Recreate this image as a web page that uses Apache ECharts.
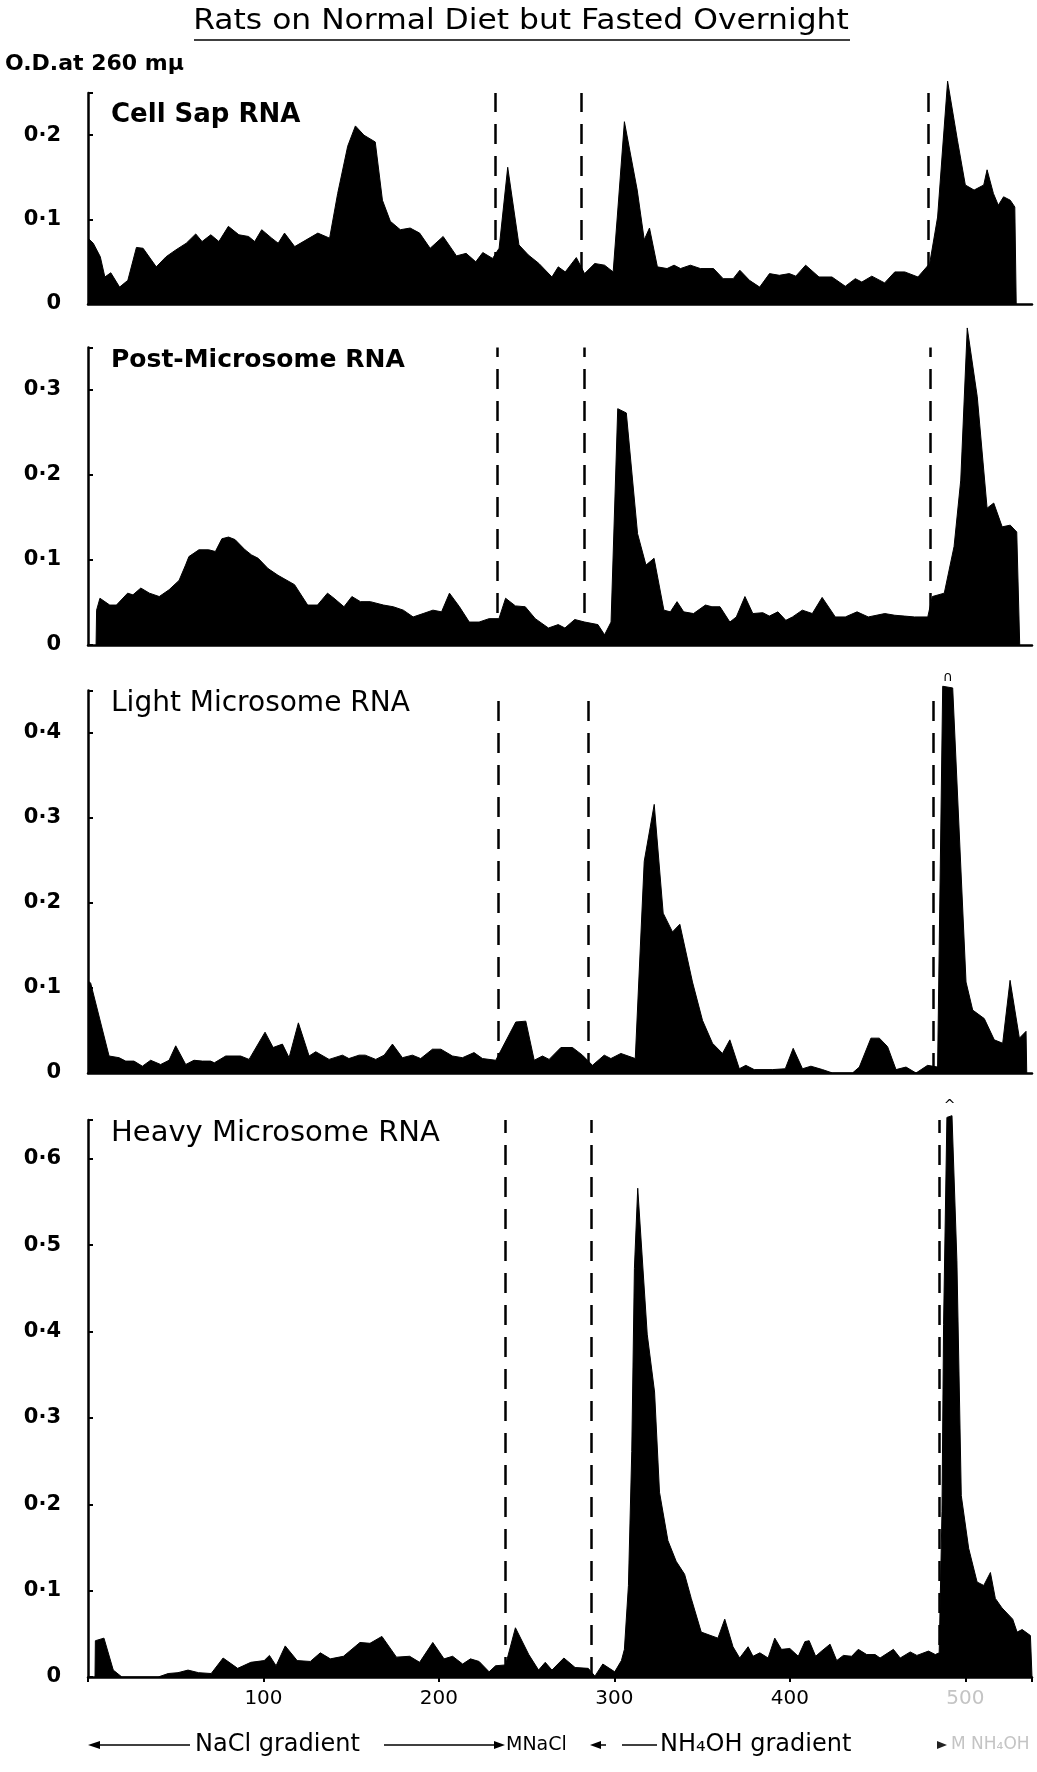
<!DOCTYPE html>
<html>
<head>
<meta charset="utf-8">
<title>Rats on Normal Diet but Fasted Overnight</title>
<script src="https://cdn.jsdelivr.net/npm/echarts@6/dist/echarts.min.js"></script>
<style>
  html, body { margin: 0; padding: 0; background: #fff; }
  #chart { width: 1037px; height: 1772px; }
</style>
</head>
<body>
<div id="chart"></div>
<script>
// [tube number, O.D. at 260 mu]
const cellSap = [
  [0,0.078],[3,0.072],[7,0.056],[9.6,0.032],[13,0.037],[18,0.020],[22.7,0.028],[27.6,0.067],[31.4,0.066],
  [38.9,0.044],[44.5,0.056],[50,0.064],[56,0.072],[61.4,0.083],[65,0.074],[70,0.082],[74.6,0.074],[80,0.092],
  [86,0.082],[91.5,0.080],[95,0.074],[99,0.088],[104.7,0.078],[108.4,0.072],[112,0.084],[117.8,0.068],[131,0.084],
  [137.7,0.078],[142.3,0.131],[148,0.187],[152.4,0.211],[157.3,0.200],[163.7,0.192],[167.8,0.123],[172.3,0.098],
  [178,0.088],[183.6,0.090],[189,0.084],[195,0.066],[202.4,0.080],[210,0.057],[215.5,0.060],[221,0.050],[225,0.061],
  [230.6,0.054],[234.3,0.066],[239.2,0.162],[245.6,0.070],[251,0.058],[257,0.048],[264.4,0.032],[268,0.044],
  [272,0.038],[278.3,0.055],[283,0.036],[288.8,0.048],[294.4,0.046],[299.3,0.038],[305.7,0.216],[313,0.135],
  [317,0.076],[320,0.090],[324.5,0.044],[330,0.042],[334,0.046],[337.7,0.042],[343.3,0.046],[349,0.042],
  [356.5,0.042],[362,0.030],[367.7,0.030],[371.5,0.040],[377,0.028],[382.8,0.020],[388.4,0.036],[394,0.034],
  [399.7,0.036],[403.4,0.033],[409,0.046],[416.6,0.032],[424,0.032],[431.6,0.021],[437.3,0.030],[441,0.026],
  [446.7,0.033],[454,0.025],[459.8,0.038],[465.5,0.038],[473,0.032],[479.7,0.048],[484.2,0.103],[489.9,0.264],
  [495.5,0.194],[500,0.141],[505,0.135],[510.5,0.141],[512.4,0.159],[516,0.131],[518.8,0.117],[521.8,0.127],
  [525.6,0.123],[528.2,0.115],[529,0]
];
const postMicrosome = [
  [4.6,0],[4.9,0.041],[6.8,0.055],[12.4,0.047],[16.2,0.047],[22.6,0.061],[25.6,0.059],[30.1,0.067],[35,0.061],
  [40.6,0.057],[46.2,0.065],[51.9,0.076],[55.6,0.094],[57.5,0.104],[63.2,0.112],[68.8,0.112],[72.6,0.110],
  [76.3,0.125],[80.1,0.127],[83.8,0.124],[89.5,0.112],[93.2,0.106],[97,0.102],[102.6,0.090],[108.3,0.082],
  [117.7,0.071],[125.2,0.047],[130.8,0.047],[136.5,0.061],[140.2,0.055],[145.9,0.045],[150.4,0.057],[155.3,0.051],
  [160.9,0.051],[168.4,0.047],[174,0.045],[179.7,0.041],[185.3,0.033],[191,0.037],[196.6,0.041],[201.5,0.039],
  [206,0.061],[211.7,0.045],[217.3,0.027],[222.9,0.027],[228.6,0.031],[234.2,0.031],[238,0.055],[243.6,0.046],
  [249.2,0.045],[254.9,0.031],[262.4,0.020],[268,0.024],[271.8,0.020],[277.4,0.030],[283.1,0.027],[290.6,0.024],
  [294.4,0.012],[298.1,0.027],[301.9,0.278],[306.8,0.273],[313.2,0.131],[318,0.094],[322.6,0.102],[328.2,0.041],
  [331.9,0.039],[335.7,0.051],[339.5,0.039],[345.1,0.037],[351.9,0.047],[355.6,0.045],[360.2,0.045],[365.8,0.027],
  [369.5,0.033],[374.4,0.057],[378.9,0.037],[384.6,0.038],[388.3,0.034],[393.2,0.039],[397.7,0.029],[401.5,0.033],
  [407.1,0.041],[412.8,0.037],[418.4,0.056],[425.9,0.033],[431.6,0.033],[438.3,0.039],[444.7,0.033],[454.1,0.037],
  [459.8,0.035],[465.4,0.034],[471.1,0.033],[478.6,0.033],[481.2,0.057],[488,0.061],[493.6,0.116],[497.4,0.194],
  [501.1,0.373],[506.8,0.292],[512.4,0.161],[516.2,0.167],[521,0.139],[525.6,0.141],[529.3,0.133],[531,0]
];
const lightMicrosome = [
  [0,0.108],[1.5,0.106],[12,0.020],[17.7,0.018],[21.5,0.014],[26.2,0.014],[31,0.008],[35.7,0.015],[41.4,0.010],
  [46.2,0.015],[50,0.032],[55.7,0.010],[60.4,0.015],[65.2,0.014],[69.9,0.014],[72,0.012],[78.5,0.020],[87,0.020],
  [91.8,0.016],[100.9,0.048],[105.5,0.030],[110.8,0.034],[114.6,0.018],[119.9,0.059],[126,0.020],[129.8,0.025],
  [137.4,0.016],[145,0.021],[148.7,0.017],[154.5,0.021],[158,0.021],[164,0.016],[168.8,0.021],[173.5,0.034],
  [179.2,0.018],[184.9,0.021],[189.6,0.017],[196.3,0.028],[201.1,0.028],[207.7,0.020],[213.4,0.018],[220,0.024],
  [224.8,0.017],[232.4,0.015],[243.8,0.060],[249.5,0.061],[254.3,0.015],[259,0.020],[262.8,0.016],[269.5,0.030],
  [276.1,0.030],[281.8,0.021],[287.5,0.009],[294.2,0.021],[298,0.017],[303.7,0.023],[311.9,0.017],[317,0.249],
  [322.7,0.316],[327.8,0.188],[333.1,0.166],[337.3,0.175],[344.5,0.107],[350.2,0.062],[355.9,0.035],[361.6,0.023],
  [365.8,0.039],[371.2,0.005],[374.9,0.009],[379.7,0.004],[390.1,0.004],[397.4,0.005],[401.9,0.029],[407.2,0.005],
  [412,0.008],[418.6,0.004],[424.3,0],[435.7,0],[439.6,0.007],[446.2,0.041],[451,0.041],[455.7,0.031],[460.5,0.004],
  [466.2,0.007],[471.9,0],[478.5,0.009],[484.2,0.007],[487.1,0.455],[492.8,0.453],[500.4,0.107],[504.2,0.074],
  [510.8,0.064],[516.5,0.039],[521.3,0.035],[525.5,0.109],[530.8,0.041],[534.6,0.049],[535,0]
];
const heavyMicrosome = [
  [4,0],[4.2,0.042],[9.1,0.045],[14.4,0.008],[19.3,0],[40,0],[45.7,0.004],[51.3,0.005],[57,0.008],[63,0.005],
  [70.2,0.004],[77,0.022],[85.3,0.010],[92.8,0.017],[100.4,0.019],[103.4,0.025],[107.2,0.013],[112.4,0.036],
  [119.2,0.019],[126.7,0.018],[132.4,0.028],[138.1,0.021],[145.6,0.024],[155,0.040],[160.7,0.039],[167.5,0.047],
  [175.8,0.023],[183.3,0.024],[189,0.017],[196.5,0.040],[202.9,0.021],[207.8,0.024],[213.5,0.015],[218,0.021],
  [222.9,0.018],[228.6,0.006],[232.3,0.013],[238,0.014],[243.6,0.057],[251.2,0.026],[256.8,0.008],[260.6,0.017],
  [264.4,0.008],[271.2,0.022],[277.6,0.011],[285.1,0.010],[288.9,0.001],[293.4,0.015],[300.2,0.006],[304,0.019],
  [305.7,0.032],[308,0.106],[309.9,0.261],[311.4,0.473],[313.3,0.566],[318.7,0.397],[322.9,0.330],[325.7,0.214],
  [330.5,0.158],[335.2,0.134],[340,0.119],[343.8,0.091],[349.5,0.052],[359,0.045],[362.9,0.067],[367.6,0.035],
  [371.4,0.022],[376.2,0.035],[379,0.024],[382.9,0.028],[387.6,0.022],[391.4,0.045],[395.2,0.032],[400,0.033],
  [404.8,0.024],[408.6,0.041],[411,0.042],[414.7,0.024],[418.1,0.030],[422.9,0.038],[426.7,0.019],[430.5,0.025],
  [435.2,0.024],[439,0.032],[443.8,0.026],[448.6,0.026],[451.4,0.022],[459,0.032],[462.9,0.022],[468.6,0.029],
  [472.4,0.025],[479,0.030],[482.9,0.026],[485.1,0.028],[486.7,0.192],[487.6,0.408],[489.5,0.648],[492.4,0.650],
  [495.2,0.482],[497.7,0.210],[501.9,0.149],[506.7,0.110],[510.5,0.106],[514.3,0.121],[517.1,0.091],[520.9,0.080],
  [527,0.067],[529.5,0.052],[532.4,0.055],[537.1,0.048],[538,0]
];

const panelNames = ['Cell Sap RNA', 'Post-Microsome RNA', 'Light Microsome RNA', 'Heavy Microsome RNA'];
const panelMax = [0.25, 0.35, 0.45, 0.645];
// dashed lines marking the change of eluant, per panel (tube number)
const boundaries = [[232, 281, 479], [233, 283, 480], [234, 285, 482], [238, 287, 485]];
const xTicks = [100, 200, 300, 400, 500];
// peaks that ran off scale get a small mark on top
const offScale = [null, null, [490, 0.455, '\u2229'], [491, 0.65, '^']];

const FONT = 'DejaVu Sans';
const panels = [cellSap, postMicrosome, lightMicrosome, heavyMicrosome];
const layout = [
  { top: 93, height: 211, title: { top: 97, size: 26, weight: 'bold' } },
  { top: 347.5, height: 297.5, title: { top: 343, size: 25, weight: 'bold' } },
  { top: 690.5, height: 382.5, title: { top: 685, size: 28, weight: 'normal' } },
  { top: 1120, height: 557, title: { top: 1114, size: 29, weight: 'normal' } }
];

function yLabel(v) {
  const k = Math.round(v * 10);
  if (Math.abs(v * 10 - k) > 1e-6) return '';
  return k === 0 ? '0' : '0\u00b7' + k;
}

const chart = echarts.init(document.getElementById('chart'));

const grid = [], xAxis = [], yAxis = [], series = [];
const title = [];

panels.forEach(function (data, i) {
  const last = i === panels.length - 1;
  grid.push({ left: 88, right: 5, top: layout[i].top, height: layout[i].height });
  xAxis.push({
    type: 'value', gridIndex: i, min: 0, max: 538, interval: 100,
    axisLine: { show: true, lineStyle: { color: '#000', width: 2.5 } },
    axisTick: { show: last, length: 5, lineStyle: { color: '#000', width: 2 } },
    axisLabel: {
      show: last, margin: 12, fontFamily: FONT, fontSize: 20,
      color: function (v) { return v == 500 ? '#c4c4c4' : '#000'; },
      formatter: function (v) { return xTicks.indexOf(v) >= 0 ? String(v) : ''; }
    },
    splitLine: { show: false }
  });
  yAxis.push({
    type: 'value', gridIndex: i, min: 0, max: panelMax[i], interval: 0.1,
    axisLine: { show: true, lineStyle: { color: '#000', width: 2.5 } },
    axisTick: { show: true, inside: true, length: 5, lineStyle: { color: '#000', width: 2 } },
    axisLabel: { margin: 27, fontFamily: FONT, fontSize: 21, fontWeight: 'bold', color: '#000', formatter: yLabel },
    splitLine: { show: false }
  });
  series.push({
    name: panelNames[i],
    type: 'line', xAxisIndex: i, yAxisIndex: i,
    data: data,
    symbol: 'none', showSymbol: false, clip: false,
    lineStyle: { color: '#000', width: 1 },
    areaStyle: { color: '#000', opacity: 1 },
    markLine: {
      silent: true, symbol: ['none', 'none'], animation: false,
      label: { show: false },
      lineStyle: { color: '#000', type: [20, 12], width: 2.5 },
      data: boundaries[i].map(function (x) { return { xAxis: x }; })
    }
  });
  title.push({
    text: panelNames[i], left: 106, top: layout[i].title.top,
    textStyle: { fontFamily: FONT, fontSize: layout[i].title.size, fontWeight: layout[i].title.weight, color: '#000' }
  });
});

const rowY = 1745;
const graphic = [
  { type: 'text', x: 521, y: 22, scaleX: 1.12,
    style: { text: 'Rats on Normal Diet but Fasted Overnight', font: '28px "DejaVu Sans"', fill: '#000',
      align: 'center', verticalAlign: 'middle' } },
  { type: 'line', shape: { x1: 194, y1: 40, x2: 850, y2: 40 }, style: { stroke: '#000', lineWidth: 1.5 } },
  { type: 'text', x: 5, y: 64,
    style: { text: 'O.D.at 260 m\u03bc', font: 'bold 22px "DejaVu Sans"', fill: '#000', verticalAlign: 'middle' } },

  // eluant legend along the bottom
  { type: 'polygon', shape: { points: [[88, rowY], [100, rowY - 4], [100, rowY + 4]] }, style: { fill: '#000' } },
  { type: 'line', shape: { x1: 98, y1: rowY, x2: 190, y2: rowY }, style: { stroke: '#000', lineWidth: 1.5 } },
  { type: 'text', x: 195, y: rowY,
    style: { text: 'NaCl gradient', font: '24px "DejaVu Sans"', fill: '#000', verticalAlign: 'middle' } },
  { type: 'line', shape: { x1: 384, y1: rowY, x2: 496, y2: rowY }, style: { stroke: '#000', lineWidth: 1.5 } },
  { type: 'polygon', shape: { points: [[505, rowY], [494, rowY - 4], [494, rowY + 4]] }, style: { fill: '#000' } },
  { type: 'text', x: 506, y: rowY,
    style: { text: 'MNaCl', font: '19px "DejaVu Sans"', fill: '#000', verticalAlign: 'middle' } },
  { type: 'polygon', shape: { points: [[590, rowY], [601, rowY - 4], [601, rowY + 4]] }, style: { fill: '#000' } },
  { type: 'line', shape: { x1: 600, y1: rowY, x2: 606, y2: rowY }, style: { stroke: '#000', lineWidth: 1.5 } },
  { type: 'line', shape: { x1: 622, y1: rowY, x2: 657, y2: rowY }, style: { stroke: '#000', lineWidth: 1.5 } },
  { type: 'text', x: 660, y: rowY,
    style: { text: 'NH\u2084OH gradient', font: '24px "DejaVu Sans"', fill: '#000', verticalAlign: 'middle' } },
  { type: 'polygon', shape: { points: [[947, rowY], [937, rowY - 4], [937, rowY + 4]] }, style: { fill: '#222' } },
  { type: 'text', x: 951, y: rowY,
    style: { text: 'M NH\u2084OH', font: '17px "DejaVu Sans"', fill: '#c4c4c4', verticalAlign: 'middle' } }
];

chart.setOption({
  animation: false,
  backgroundColor: '#fff',
  title: title,
  grid: grid,
  xAxis: xAxis,
  yAxis: yAxis,
  series: series,
  graphic: graphic
});

// small marks over the off-scale peaks, placed through the panel's own scales
offScale.forEach(function (m, i) {
  if (!m) return;
  const p = chart.convertToPixel({ gridIndex: i }, [m[0], m[1]]);
  graphic.push({
    type: 'text', x: p[0], y: p[1] - 2,
    style: { text: m[2], font: '14px "DejaVu Sans"', fill: '#000', align: 'center', verticalAlign: 'bottom' }
  });
});
chart.setOption({ graphic: graphic });
</script>
</body>
</html>
